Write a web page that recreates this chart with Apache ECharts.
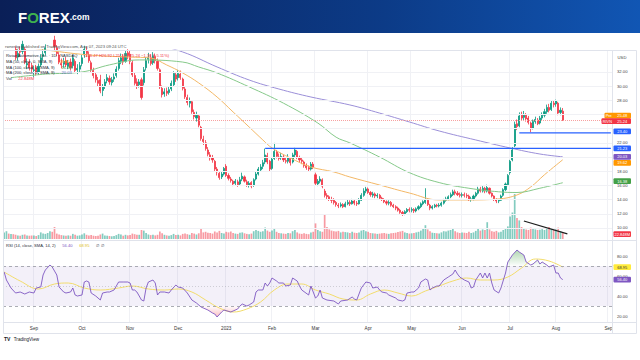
<!DOCTYPE html>
<html>
<head>
<meta charset="utf-8">
<script src="https://cdn.jsdelivr.net/npm/echarts@6/dist/echarts.min.js"></script>
<style>
html,body{margin:0;padding:0;background:#fff;}
#c{width:640px;height:360px;}
</style>
</head>
<body>
<div id="c"></div>
<script>
// ---------------- data ----------------
const holidays = ['2022-09-05','2022-11-24','2022-12-26','2023-01-02','2023-01-16','2023-02-20','2023-04-07','2023-05-29','2023-06-19','2023-07-04','2023-09-04'];
const firstTradingDay = [2022, 7, 15];
const categoryCount = 266;
const monthNames = ['Jan','Feb','Mar','Apr','May','Jun','Jul','Aug','Sep','Oct','Nov','Dec'];
const priceTicks = [10,12,14,16,18,22,28,30,32];
const gridPriceLevels = [10,12,14,16,18,20,22,24,26,28,30,32];
const rsiTicks = [20,40,60,80];

// [open, close, low, high] per trading day, Aug 15 2022 .. Aug 4 2023
const ohlc = [
[36.6,37.2,36.0,37.9],[37.3,38.4,36.9,39.0],[38.2,37.0,36.6,38.6],[36.9,37.4,36.3,38.0],[37.0,35.8,35.5,37.3],
[35.2,34.0,33.7,35.6],[34.1,34.6,33.6,35.2],[34.9,34.8,34.1,35.6],[34.9,35.9,34.5,36.4],[35.2,33.4,33.1,35.5],
[33.0,33.2,32.4,33.9],[33.4,32.6,32.2,33.8],[32.9,32.4,31.9,33.3],
[32.2,32.3,31.3,32.9],[32.6,31.9,31.5,33.0],[32.0,32.8,31.6,33.2],[33.0,34.0,32.7,34.5],[34.2,34.5,33.6,35.2],
[34.7,35.4,34.3,35.9],[35.6,36.3,35.2,37.0],[36.1,37.2,35.8,37.8],[37.0,36.0,35.6,37.4],[36.5,35.6,35.1,37.1],
[35.4,34.6,34.2,35.8],[34.4,33.4,33.1,34.8],[33.2,33.0,32.5,33.9],[33.1,33.5,32.6,34.0],[33.6,33.0,32.7,34.1],
[32.8,33.3,32.4,33.7],[33.4,32.6,32.2,33.9],[32.9,34.0,32.5,34.4],[33.5,32.2,31.9,33.8],[32.3,32.5,31.7,33.1],
[32.4,32.9,32.0,33.4],
[33.2,34.0,32.8,34.4],[34.4,35.2,34.0,35.7],[35.0,34.6,34.1,35.6],[34.4,33.6,33.3,34.9],[33.3,32.3,32.0,33.6],
[32.2,31.5,31.1,32.6],[31.6,30.9,30.5,32.0],[30.8,30.4,29.9,31.3],[30.9,29.3,29.0,31.6],[29.4,29.9,28.6,30.3],
[30.0,30.6,29.6,31.0],[30.8,31.2,30.4,31.7],[31.1,30.6,30.2,31.5],[30.5,30.9,30.1,31.3],[31.0,31.3,30.6,31.8],
[31.5,32.4,31.2,32.8],[32.5,33.6,32.2,34.0],[33.5,34.0,33.1,34.6],[34.1,33.4,33.0,34.5],[33.5,34.6,33.3,35.0],
[34.7,34.3,33.8,35.2],
[34.5,33.5,33.1,35.0],[33.3,31.6,31.3,33.6],[31.5,30.4,30.1,31.9],[30.6,30.0,29.6,31.1],[30.2,30.6,29.8,31.0],
[30.9,28.4,28.1,31.2],[30.5,32.3,30.1,32.7],[32.6,33.6,32.2,34.1],[33.8,34.0,33.2,34.7],[34.0,33.2,32.9,34.5],
[33.3,34.3,33.0,34.8],[34.2,33.6,33.2,34.6],[33.5,32.5,32.2,33.9],[32.3,29.9,29.6,32.5],[29.7,28.8,28.4,30.1],
[28.9,29.2,28.5,29.7],[29.3,29.0,28.6,29.8],[29.1,29.5,28.8,30.0],[29.6,30.4,29.3,30.8],[30.2,31.8,30.0,32.1],
[31.6,31.0,30.6,32.0],
[31.2,31.8,30.8,32.3],[31.7,31.2,30.9,32.2],[31.0,29.7,29.4,31.2],[29.6,28.5,28.2,29.9],[28.4,27.7,27.3,28.8],
[27.6,27.9,27.0,28.4],[27.8,26.4,26.1,28.0],[26.3,25.7,25.3,26.7],[25.5,25.9,25.0,26.4],[25.8,24.5,24.2,26.0],
[24.2,22.6,22.3,24.4],[22.5,22.2,21.7,23.0],[22.0,21.2,20.9,22.4],[21.0,20.4,20.1,21.4],[20.3,19.9,19.5,20.7],
[19.9,19.6,19.2,20.3],[19.4,18.3,18.0,19.6],[18.3,17.9,17.4,18.6],[17.7,17.1,16.8,18.0],[17.2,17.6,16.9,17.9],
[17.6,18.4,17.4,18.6],
[18.7,17.4,17.2,19.0],[17.4,17.0,16.7,17.7],[16.9,16.7,16.4,17.2],[16.6,16.2,15.9,16.8],[16.3,16.6,16.0,16.9],
[16.5,16.1,15.8,16.8],[16.2,16.8,16.0,17.2],[16.9,17.3,16.6,17.8],[17.2,16.6,16.4,17.4],[16.5,16.1,15.8,16.8],
[16.0,16.3,15.7,16.6],[16.4,15.9,15.6,16.6],[16.0,16.8,15.8,17.0],[16.9,17.6,16.7,17.9],[17.6,18.3,17.4,18.6],
[18.2,18.6,17.9,19.0],[18.7,19.2,18.3,19.6],[19.3,20.3,19.0,21.2],[20.2,19.3,19.0,20.6],[19.4,18.3,18.0,19.6],
[18.4,19.7,18.2,19.9],[19.8,20.8,19.6,22.0],[20.7,20.1,19.8,21.0],[20.0,19.8,19.5,20.5],[19.9,20.1,19.6,20.6],
[20.0,19.6,19.3,20.3],[19.5,19.4,19.1,19.9],[19.4,19.9,19.1,20.4],[19.8,19.2,18.8,20.0],[19.3,20.3,19.1,20.6],
[20.3,21.0,20.0,21.3],[20.8,20.0,19.7,21.0],[19.9,19.6,19.3,20.2],[19.6,19.4,19.0,19.9],[19.3,18.8,18.5,19.5],
[18.8,18.5,18.2,19.1],[18.5,18.3,18.0,18.8],[18.3,19.0,18.1,19.3],[19.0,18.6,18.3,19.3],
[17.5,16.3,16.0,17.8],[16.2,16.6,15.9,16.9],[16.6,16.9,16.3,17.3],[16.8,15.9,15.6,17.0],[15.2,14.6,14.3,15.5],
[14.6,14.4,14.0,14.9],[14.4,14.1,13.8,14.6],[14.0,13.9,13.5,14.4],[13.9,13.6,13.3,14.2],[13.6,13.3,13.0,13.8],
[13.2,13.1,12.8,13.5],[13.1,13.3,12.9,13.6],[13.3,13.0,12.8,13.5],[13.0,13.4,12.9,13.7],[13.4,13.6,13.2,14.0],
[13.6,13.4,13.1,13.9],[13.4,13.8,13.3,14.1],[13.8,13.5,13.2,14.0],[13.5,13.4,13.1,13.8],[13.4,13.9,13.3,14.2],
[13.9,14.6,13.8,14.9],[14.6,15.2,14.4,15.6],[15.2,15.5,14.9,15.8],
[15.5,15.0,14.8,15.7],[15.0,14.7,14.4,15.2],[14.6,14.8,14.3,15.1],[14.8,14.5,14.2,15.0],[14.5,14.6,14.2,14.9],
[14.6,14.2,14.0,14.8],[14.2,14.0,13.8,14.4],[14.0,13.7,13.5,14.2],[13.7,13.5,13.2,13.9],[13.5,13.6,13.2,13.9],
[13.6,13.2,13.0,13.8],[13.2,13.0,12.8,13.4],[13.0,12.8,12.5,13.2],[12.8,12.5,12.3,13.0],[12.5,12.2,12.0,12.7],
[12.2,12.0,11.7,12.4],[12.0,12.3,11.8,12.5],[12.3,12.6,12.1,12.8],[12.6,12.5,12.2,12.9],
[12.5,12.6,12.2,12.9],[12.6,12.4,12.1,12.8],[12.4,12.7,12.2,12.9],[12.7,13.0,12.5,13.2],[13.0,13.4,12.8,13.6],
[13.4,13.7,13.2,13.9],[13.6,14.0,13.4,15.6],[13.9,13.3,13.1,14.2],[13.2,12.8,12.5,13.4],[12.8,13.0,12.6,13.2],
[13.0,13.2,12.8,13.4],[13.2,13.1,12.9,13.4],[13.1,13.2,12.9,13.5],[13.2,13.5,13.0,13.7],[13.5,13.9,13.3,14.1],
[13.9,14.1,13.7,14.4],[14.1,14.4,13.9,14.6],[14.4,14.7,14.2,15.0],[14.7,15.1,14.5,15.4],[15.1,14.9,14.6,15.4],
[14.9,14.7,14.5,15.2],[14.7,14.6,14.3,15.0],
[14.6,14.7,14.3,15.0],[14.7,14.6,14.3,15.0],[14.6,14.5,14.2,14.9],[14.5,14.0,13.8,14.7],[14.0,14.1,13.7,14.4],
[14.1,14.5,13.9,14.7],[14.5,14.9,14.3,15.1],[14.9,15.5,14.7,15.8],[15.5,15.2,15.0,15.8],[15.2,15.6,15.0,15.9],
[15.6,15.2,14.9,15.8],[15.2,15.7,15.0,16.1],[15.6,14.9,14.7,15.7],[14.9,14.5,14.3,15.0],[14.5,14.0,13.8,14.6],
[14.0,13.8,13.5,14.2],[13.8,13.9,13.5,14.1],[13.9,14.5,13.8,14.7],[14.6,15.4,14.4,15.6],[15.4,16.2,15.2,16.4],
[16.1,17.4,15.9,17.6],
[17.8,19.4,17.5,19.6],[19.6,21.0,19.4,21.4],[21.6,24.6,21.4,25.0],[24.7,24.3,23.8,25.3],[24.4,25.8,24.2,26.3],
[25.9,25.5,25.1,26.4],[25.6,25.9,25.2,26.5],[25.9,25.4,25.0,26.2],[25.5,24.9,24.6,25.8],[24.8,24.0,23.5,25.0],
[24.1,25.0,23.9,25.3],[25.0,25.3,24.7,25.7],[25.2,24.7,24.5,25.5],[24.8,25.5,24.6,25.8],[25.5,25.9,25.2,26.3],
[25.9,26.4,25.6,26.8],[26.4,27.0,26.1,27.4],[27.0,26.6,26.3,27.5],[26.7,27.6,26.5,28.0],[27.6,27.4,27.0,28.0],
[27.5,27.9,27.1,28.1],[27.6,26.2,25.9,27.8],[26.3,26.6,25.9,27.0],[26.47,25.24,25.10,26.92]
];

// volume in millions per trading day
const volumes = [
22,26,18,17,16,14,12,11,14,15,12,11,12,
12,10,13,22,18,17,20,26,24,40,18,15,13,12,11,12,11,17,14,11,12,
15,19,14,12,13,11,10,11,15,18,12,11,10,9,10,13,17,15,11,14,12,
13,18,16,14,14,30,28,20,15,13,14,12,14,25,19,14,12,11,13,17,13,
14,12,17,18,16,14,20,18,15,19,35,22,24,21,20,18,25,22,27,20,18,
24,22,25,20,18,17,21,22,19,17,16,18,26,30,27,24,26,38,28,24,
28,36,24,20,19,18,17,20,19,26,30,22,18,17,19,17,16,22,24,
52,30,26,24,80,40,32,28,26,25,27,22,24,23,22,20,24,21,20,22,28,30,26,
24,20,19,18,17,18,19,20,18,17,19,20,21,23,25,27,22,20,18,
19,20,22,24,28,34,46,32,26,21,20,19,18,22,26,25,28,30,34,26,22,20,
22,21,20,24,20,22,27,34,28,32,30,56,32,26,24,27,22,24,30,36,42,
75,88,150,70,62,40,36,32,30,38,34,32,30,31,33,30,36,40,34,30,
32,38,26,22.848
];

// moving averages: [trading-day index, price]
const ma50Points = [[8,35.6],[16,35.2],[37,34.4],[55,34.1],[64,33.97],[71,32.99],[78,31.86],[85,30.45],[93,28.47],[100,26.36],[107,24.24],[113,22.41],[117,21.28],[125,19.87],[134,18.6],[144,17.9],[151,17.19],[164,16.06],[177,14.93],[190,13.95],[203,13.95],[216,14.09],[224,14.65],[230,15.78],[236,17.5],[244,19.62]];
const ma100Points = [[3,31.2],[18,31.7],[34,32.0],[46,33.0],[59,33.7],[78,33.4],[85,32.7],[93,31.86],[107,29.9],[122,27.6],[137,24.8],[145,22.8],[151,22.0],[164,20.0],[177,17.8],[190,16.4],[203,15.6],[216,15.1],[224,15.0],[234,15.6],[244,16.38]];
const ma200Points = [[60,36.4],[78,34.82],[93,32.71],[107,30.87],[120,29.6],[134,28.47],[151,27.35],[164,26.2],[177,24.95],[190,23.68],[206,22.41],[221,21.28],[234,20.43],[244,20.03]];

// RSI(14) and its SMA(14): [trading-day index, value]
const rsiPoints = [[0,64],[1,56],[3,48],[5,43],[7,44],[9,42],[11,44],[13,43],[14,48],[16,49],[17,61],[18,66],[20,71],[21,69],[23,61],[24,49],[26,44],[27,43],[29,44],[30,48],[31,41],[32,40],[34,41],[35,54],[36,55],[37,54],[38,43],[40,40],[42,36],[43,43],[45,44],[46,44],[48,46],[50,54],[52,54],[54,54],[55,53],[56,46],[57,46],[58,44],[60,36],[61,35],[62,48],[63,54],[65,56],[66,53],[67,41],[68,44],[70,44],[72,43],[73,46],[75,51],[76,49],[78,48],[80,43],[82,36],[84,33],[86,29],[89,26],[91,23],[92,22],[93,19],[95,24],[96,26],[99,24],[100,25],[102,27],[103,30],[104,32],[106,30],[107,31],[109,34],[110,44],[111,46],[113,46],[114,53],[115,50],[116,53],[117,58],[119,55],[120,53],[122,53],[123,50],[125,51],[126,58],[128,55],[129,50],[130,46],[133,41],[134,50],[136,38],[137,40],[138,46],[139,38],[141,36],[144,35],[146,32],[147,35],[150,36],[152,39],[153,37],[154,36],[156,48],[158,54],[160,53],[161,48],[163,49],[164,46],[165,44],[167,43],[168,41],[171,38],[172,36],[174,35],[175,36],[176,43],[178,44],[179,44],[181,48],[182,54],[184,57],[185,56],[186,46],[187,48],[189,50],[190,50],[192,56],[194,59],[196,62],[197,66],[198,62],[199,59],[201,56],[203,54],[204,48],[205,49],[206,56],[208,63],[209,58],[210,63],[211,58],[212,63],[213,53],[214,46],[216,43],[217,48],[219,63],[220,74],[222,81],[224,86],[225,84],[227,81],[228,74],[230,71],[231,72],[233,76],[234,72],[235,74],[237,71],[238,69],[240,71],[241,63],[242,63],[243,58],[244,56.4]];
const rsiMaPoints = [[0,64],[7,55],[15,47],[22,52],[28,53],[35,48],[42,46],[50,48],[56,50],[63,47],[70,46],[76,47],[82,44],[88,36],[94,28],[100,24],[106,27],[112,34],[118,46],[124,52],[130,52],[136,46],[142,42],[148,37],[154,36],[160,42],[166,46],[172,43],[178,40],[184,45],[190,50],[196,55],[202,58],[208,56],[214,56],[220,59],[226,68],[232,77],[238,75],[244,68.95]];

// horizontal levels drawn on the chart
const level2123 = [[114, 21.23], [265, 21.23]];
const level2340 = [[225, 23.40], [265, 23.40]];
const lastClose = 25.24, preMarket = 25.48;
const volTrend = [[227, 60], [246, 16.7]];

const legendRows = [
  {label:'Rivian Automotive, Inc. · 1D · NASDAQ', value:'O26.47 H26.92 L25.10 C25.24 −1.36 (−5.11%)', color:'#f23645'},
  {label:'MA (50, close, 0, SMA, 9)', value:'19.62', color:'#ff9800'},
  {label:'MA (100, close, 0, SMA, 9)', value:'16.38', color:'#43a047'},
  {label:'MA (200, close, 0, SMA, 9)', value:'20.03', color:'#5c6bc0'},
  {label:'Vol', value:'22.848M', color:'#f23645'}
];

// ---------------- build ----------------
function buildTradingDays(){
  const d = new Date(Date.UTC(firstTradingDay[0], firstTradingDay[1], firstTradingDay[2]));
  const out = [];
  while (out.length < categoryCount){
    const dow = d.getUTCDay();
    const s = d.toISOString().slice(0,10);
    if (dow !== 0 && dow !== 6 && holidays.indexOf(s) < 0) out.push(s);
    d.setUTCDate(d.getUTCDate()+1);
  }
  return out;
}
const dates = buildTradingDays();
const monthLabel = {};
for (let i = 1; i < dates.length; i++){
  if (dates[i].slice(5,7) !== dates[i-1].slice(5,7)){
    const m = +dates[i].slice(5,7) - 1;
    monthLabel[i] = m === 0 ? dates[i].slice(0,4) : monthNames[m];
  }
}
const isMonthStart = (idx) => monthLabel.hasOwnProperty(idx);

const UP = '#089981', DOWN = '#f23645';
const FONT = '"Liberation Sans", Arial, sans-serif';

const volData = volumes.map((v,i) => ({value: v, itemStyle: {color: ohlc[i][1] >= ohlc[i][0] ? 'rgba(8,153,129,0.5)' : 'rgba(242,54,69,0.5)'}}));

const chart = echarts.init(document.getElementById('c'), null, {renderer:'svg', width:640, height:360});

const gridL = 3, gridR = 28;
const flatLine = (data, color, width, xi, yi, z) => ({type:'line', xAxisIndex:xi, yAxisIndex:yi, data:data, showSymbol:false, silent:true, z:z,
  lineStyle:{color:color, width:width}, clip:true});
const option = {
  animation: false,
  backgroundColor: '#ffffff',
  textStyle: {fontFamily: FONT},
  grid: [
    {left: gridL, right: gridR, top: 50, height: 190},
    {left: gridL, right: gridR, top: 185, height: 54},
    {left: gridL, right: gridR, top: 241, height: 81}
  ],
  xAxis: [
    {type:'category', gridIndex:0, data: dates, boundaryGap:true, axisLine:{show:false}, axisTick:{show:false}, axisLabel:{show:false},
     splitLine:{show:true, interval:(i)=>isMonthStart(i), lineStyle:{color:'#f0f1f5', width:1}}},
    {type:'category', gridIndex:1, data: dates, boundaryGap:true, show:false},
    {type:'category', gridIndex:2, data: dates, boundaryGap:true, axisLine:{show:false}, axisTick:{show:false},
     axisLabel:{show:true, interval:(i)=>isMonthStart(i), formatter:(v,i)=>monthLabel[i]||'', fontSize:4.6, color:'#333', margin:4, fontFamily:FONT},
     splitLine:{show:true, interval:(i)=>isMonthStart(i), lineStyle:{color:'#f0f1f5', width:1}}}
  ],
  yAxis: [
    {type:'value', gridIndex:0, position:'right', min:8.3, max:35.1, axisLine:{show:false}, axisTick:{show:false}, splitLine:{show:false},
     axisLabel:{customValues: priceTicks, formatter:(v)=>v.toFixed(2), fontSize:4.2, color:'#444', margin:5, fontFamily:FONT}},
    {type:'value', gridIndex:1, min:0, max:180, show:false},
    {type:'value', gridIndex:2, position:'right', min:14, max:95, axisLine:{show:false}, axisTick:{show:false}, splitLine:{show:false},
     axisLabel:{customValues: rsiTicks, formatter:(v)=>v.toFixed(2), fontSize:4.2, color:'#444', margin:5, fontFamily:FONT}}
  ],
  series: [
    {name:'grid', type:'line', xAxisIndex:0, yAxisIndex:0, data:[], z:0, silent:true,
     markLine:{silent:true, symbol:['none','none'], label:{show:false}, lineStyle:{color:'#f0f1f5', width:1, type:'solid'},
       data: gridPriceLevels.map(v => ({yAxis: v}))}},
    {name:'Volume', type:'bar', xAxisIndex:1, yAxisIndex:1, data: volData, barWidth:1.7, z:1, silent:true},
    flatLine(volTrend, '#1e1e1e', 1.3, 1, 1, 5),
    {name:'RIVN', type:'candlestick', xAxisIndex:0, yAxisIndex:0, data: ohlc, barWidth:1.6, z:3, clip:true,
     itemStyle:{color:UP, color0:DOWN, borderColor:UP, borderColor0:DOWN, borderWidth:0.8},
     markLine:{silent:true, symbol:['none','none'], label:{show:false},
       data:[{yAxis:lastClose, lineStyle:{color:'#f7a1a1', width:1, type:'dotted'}}]}},
    flatLine(level2123, '#2962ff', 1.2, 0, 0, 6),
    flatLine(level2340, '#2962ff', 1.2, 0, 0, 6),
    {name:'MA50', type:'line', xAxisIndex:0, yAxisIndex:0, data: ma50Points, showSymbol:false, smooth:0.4, z:4, lineStyle:{color:'#f3b867', width:1}},
    {name:'MA100', type:'line', xAxisIndex:0, yAxisIndex:0, data: ma100Points, showSymbol:false, smooth:0.4, z:4, lineStyle:{color:'#86c98a', width:1}},
    {name:'MA200', type:'line', xAxisIndex:0, yAxisIndex:0, data: ma200Points, showSymbol:false, smooth:0.4, z:4, lineStyle:{color:'#9b8fd8', width:1}},
    {name:'RSI over', type:'line', xAxisIndex:2, yAxisIndex:2, data: rsiPoints.map(p => [p[0], Math.max(p[1],70)]), showSymbol:false, z:2, silent:true,
     lineStyle:{width:0, opacity:0},
     areaStyle:{origin:70, color:new echarts.graphic.LinearGradient(0,0,0,1,[{offset:0,color:'rgba(67,160,71,0.6)'},{offset:1,color:'rgba(67,160,71,0.02)'}])}},
    {name:'RSI under', type:'line', xAxisIndex:2, yAxisIndex:2, data: rsiPoints.map(p => [p[0], Math.min(p[1],30)]), showSymbol:false, z:2, silent:true,
     lineStyle:{width:0, opacity:0},
     areaStyle:{origin:30, color:new echarts.graphic.LinearGradient(0,0,0,1,[{offset:0,color:'rgba(242,54,69,0.02)'},{offset:1,color:'rgba(242,54,69,0.45)'}])}},
    {name:'RSI MA', type:'line', xAxisIndex:2, yAxisIndex:2, data: rsiMaPoints, showSymbol:false, smooth:0.4, z:3, lineStyle:{color:'#f2dc6b', width:1}},
    {name:'RSI', type:'line', xAxisIndex:2, yAxisIndex:2, data: rsiPoints, showSymbol:false, z:4, lineStyle:{color:'#7e57c2', width:0.9},
     markArea:{silent:true, itemStyle:{color:'rgba(126,87,194,0.09)'}, data:[[{yAxis:30},{yAxis:70}]]},
     markLine:{silent:true, symbol:['none','none'], label:{show:false},
       data:[
         {yAxis:70, lineStyle:{color:'#9598a1', width:0.8, type:[3,3]}},
         {yAxis:50, lineStyle:{color:'rgba(149,152,161,0.5)', width:0.8, type:[1,2]}},
         {yAxis:30, lineStyle:{color:'#9598a1', width:0.8, type:[3,3]}}
       ]}}
  ]
};
chart.setOption(option);

// ---------------- overlay text & tags ----------------
const g = [];
g.push({type:'rect', shape:{x:0,y:0,width:640,height:33}, style:{fill:new echarts.graphic.LinearGradient(0,0,1,0,[{offset:0,color:'#0a1f57'},{offset:0.6,color:'#0c3b87'},{offset:1,color:'#1156b4'}])}, z:10});
g.push({type:'text', x:18, y:17, z:11, style:{text:'{w|F}{g|O}{w|REX}{s|.com}', verticalAlign:'middle',
  rich:{w:{fill:'#ffffff', fontSize:15, fontWeight:'bold', fontFamily:FONT},
        g:{fill:'#3fb34f', fontSize:15, fontWeight:'bold', fontFamily:FONT},
        s:{fill:'#ffffff', fontSize:8.5, fontWeight:'bold', fontFamily:FONT}}}});
g.push({type:'text', x:5, y:46, z:11, style:{text:'rwnerbp published on TradingView.com, Aug 07, 2023 09:24 UTC', fill:'#555', fontSize:4.2, fontFamily:FONT, verticalAlign:'middle'}});
// frame
const frameColor = '#e0e3eb';
g.push({type:'rect', shape:{x:3.5,y:50.5,width:633,height:283}, style:{fill:'none', stroke:frameColor, lineWidth:1}, z:9, silent:true});
g.push({type:'line', shape:{x1:3.5,y1:240.5,x2:636.5,y2:240.5}, style:{stroke:frameColor, lineWidth:1}, z:9});
g.push({type:'line', shape:{x1:3.5,y1:322.5,x2:636.5,y2:322.5}, style:{stroke:frameColor, lineWidth:1}, z:9});
g.push({type:'line', shape:{x1:612.5,y1:50.5,x2:612.5,y2:333.5}, style:{stroke:frameColor, lineWidth:1}, z:9});
g.push({type:'text', x:622, y:57, z:11, style:{text:'USD', fill:'#444', fontSize:4.2, fontFamily:FONT, align:'center', verticalAlign:'middle'}});
// legend rows
const legendY = [55.7, 61.4, 67.0, 72.6, 78.2];
legendRows.forEach((r, k) => {
  g.push({type:'text', x:6, y:legendY[k], z:12, style:{text:'{a|'+r.label+'}  {v|'+r.value+'}', verticalAlign:'middle',
    rich:{a:{fill:'#2a2e39', fontSize:4.1, fontFamily:FONT}, v:{fill:r.color, fontSize:4.1, fontFamily:FONT}}}});
});
// RSI title
g.push({type:'text', x:6, y:245.7, z:12, style:{text:'{a|RSI (14, close, SMA, 14, 2)}  {p|56.40}  {y|68.95}  {a|∅  ∅}', verticalAlign:'middle',
  rich:{a:{fill:'#2a2e39', fontSize:4.1, fontFamily:FONT}, p:{fill:'#7e57c2', fontSize:4.1, fontFamily:FONT}, y:{fill:'#e0c020', fontSize:4.1, fontFamily:FONT}}}});
// TradingView mark
g.push({type:'text', x:4, y:339, z:12, style:{text:'{b|TV} {a|TradingView}', verticalAlign:'middle',
  rich:{b:{fill:'#131722', fontSize:5, fontWeight:'bold', fontFamily:FONT}, a:{fill:'#131722', fontSize:4.6, fontFamily:FONT}}}});

function tag(y, text, bg, fg, left, prefix){
  const x0 = left || 613.5, w = 631 - x0, h = 5.8;
  g.push({type:'rect', shape:{x:x0, y:y-h/2, width:w, height:h, r:1}, style:{fill:bg}, z:13});
  if (prefix){
    g.push({type:'text', x:x0+1.2, y:y, z:14, style:{text:prefix, fill:fg, fontSize:3.9, fontFamily:FONT, verticalAlign:'middle'}});
  }
  g.push({type:'text', x:622.3, y:y, z:14, style:{text:text, fill:fg, fontSize:4, fontFamily:FONT, align:'center', verticalAlign:'middle'}});
}
const py = v => chart.convertToPixel({yAxisIndex:0}, v);
const vy = v => chart.convertToPixel({yAxisIndex:1}, v);
const ry = v => chart.convertToPixel({yAxisIndex:2}, v);
tag(py(preMarket)-2.6, '25.48', '#ff9800', '#fff', 604.5, 'Pre');
tag(py(lastClose)+1.2, '25.24', '#f23645', '#fff', 601.5, 'RIVN');
tag(py(23.40)-1.5, '23.40', '#2962ff', '#fff');
tag(py(21.23), '21.23', '#2962ff', '#fff');
tag(py(20.03), '20.03', '#7e57c2', '#fff');
tag(py(19.62)+3.2, '19.62', '#ff9800', '#fff');
tag(py(16.38)-1.6, '16.38', '#43a047', '#fff');
tag(vy(volumes[volumes.length-1])+2, '22.848M', '#f23645', '#fff');
tag(ry(68.95), '68.95', '#ffeb3b', '#333');
tag(ry(56.40), '56.40', '#7e57c2', '#fff');

chart.setOption({graphic: g});
</script>
</body>
</html>
